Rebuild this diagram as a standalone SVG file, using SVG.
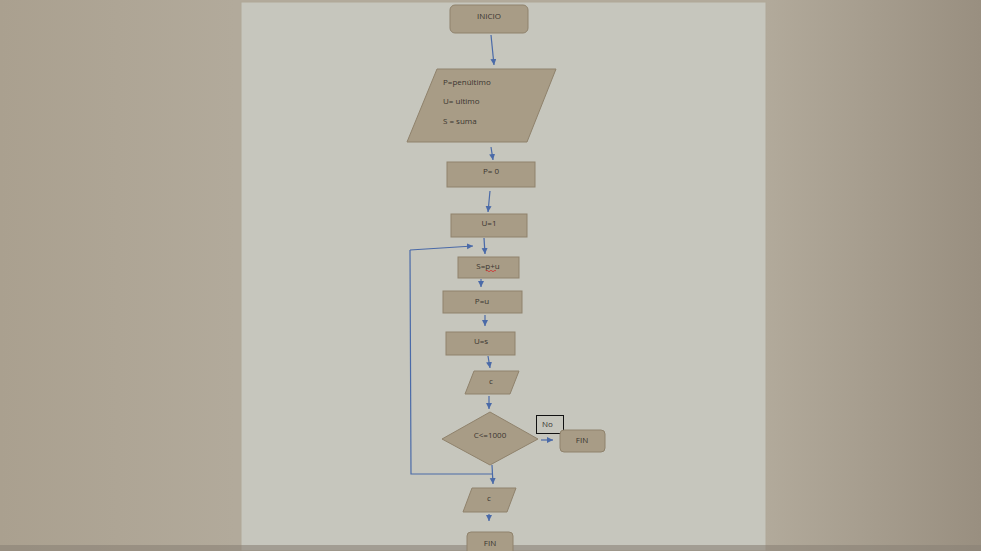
<svg xmlns="http://www.w3.org/2000/svg" width="981" height="551" viewBox="0 0 981 551">
<defs>
<linearGradient id="bg" x1="0" x2="1"><stop offset="0" stop-color="#aaa08f"/><stop offset="0.24" stop-color="#b2aa9b"/><stop offset="0.78" stop-color="#b2aa9b"/><stop offset="1" stop-color="#998f80"/></linearGradient>
<marker id="a" markerWidth="8" markerHeight="8" refX="6" refY="3" orient="auto" markerUnits="userSpaceOnUse"><path d="M0,0 L6,3 L0,6 Z" fill="#4a6aa8"/></marker>
</defs>
<style>
.s{fill:#a89c86;stroke:#8f826c;stroke-width:1}
.t{font-family:"Open Sans","DejaVu Sans",sans-serif;font-size:8px;fill:#3a3530}
.c{stroke:#4a6aa8;stroke-width:1.2;fill:none}
.m{marker-end:url(#a)}
</style>
<rect width="981" height="551" fill="url(#bg)"/>
<rect x="241" y="2" width="525" height="549" fill="#c6c6bd" stroke="#b0a898"/>
<rect x="0" y="545" width="981" height="6" fill="#8a8276" opacity="0.6"/>
<g id="connectors">
<line class="c m" x1="491" y1="35" x2="494" y2="65"/>
<line class="c m" x1="491" y1="147" x2="493" y2="160"/>
<line class="c m" x1="490" y1="191" x2="488" y2="212"/>
<line class="c m" x1="484" y1="238" x2="485" y2="254"/>
<polyline class="c" points="492,474 411,474 410,250"/>
<line class="c m" x1="410" y1="250" x2="473" y2="246"/>
<line class="c m" x1="481" y1="279" x2="481" y2="287"/>
<line class="c m" x1="485" y1="315" x2="485" y2="326"/>
<line class="c m" x1="488" y1="356" x2="490" y2="368"/>
<line class="c m" x1="489" y1="396" x2="489" y2="409"/>
<line class="c m" x1="541" y1="440" x2="553" y2="440"/>
<line class="c m" x1="492" y1="465" x2="493" y2="484"/>
<line class="c m" x1="489" y1="514" x2="489" y2="521"/>
</g>
<g id="inicio"><rect class="s" x="450" y="5" width="78" height="28" rx="5"/><text class="t" x="489" y="19" text-anchor="middle">INICIO</text></g>
<g id="entrada"><polygon class="s" points="437,69 556,69 527,142 407,142"/>
<text class="t" x="443" y="85">P=penúltimo</text><text class="t" x="443" y="104">U= ultimo</text><text class="t" x="443" y="124">S = suma</text></g>
<g id="p0"><rect class="s" x="447" y="162" width="88" height="25"/><text class="t" x="491" y="174" text-anchor="middle">P= 0</text></g>
<g id="u1"><rect class="s" x="451" y="214" width="76" height="23"/><text class="t" x="489" y="226" text-anchor="middle">U=1</text></g>
<g id="spu"><rect class="s" x="458" y="257" width="61" height="21"/><text class="t" x="488" y="269" text-anchor="middle">S=p+u</text>
<path d="M486,271 q1,-1.5 2,0 q1,1.5 2,0 q1,-1.5 2,0 q1,1.5 2,0 q1,-1.5 2,0" stroke="#d03030" stroke-width="0.8" fill="none"/></g>
<g id="pu"><rect class="s" x="443" y="291" width="79" height="22"/><text class="t" x="482" y="304" text-anchor="middle">P=u</text></g>
<g id="us"><rect class="s" x="446" y="332" width="69" height="23"/><text class="t" x="481" y="344" text-anchor="middle">U=s</text></g>
<g id="c1"><polygon class="s" points="474,371 519,371 510,394 465,394"/><text class="t" x="491" y="384" text-anchor="middle">c</text></g>
<g id="decision"><polygon class="s" points="490,412 538,439 490,465 442,439"/><text class="t" x="490" y="438" text-anchor="middle">C&lt;=1000</text></g>
<g id="no"><rect x="536.5" y="415.5" width="27" height="18" fill="none" stroke="#111" stroke-width="1"/><text class="t" x="542" y="427">No</text></g>
<g id="fin1"><rect class="s" x="560" y="430" width="45" height="22" rx="4"/><text class="t" x="582" y="443" text-anchor="middle">FIN</text></g>
<g id="c2"><polygon class="s" points="472,488 516,488 507,512 463,512"/><text class="t" x="489" y="501" text-anchor="middle">c</text></g>
<g id="fin2"><rect class="s" x="467" y="532" width="46" height="24" rx="4"/><text class="t" x="490" y="546" text-anchor="middle">FIN</text></g>
</svg>
